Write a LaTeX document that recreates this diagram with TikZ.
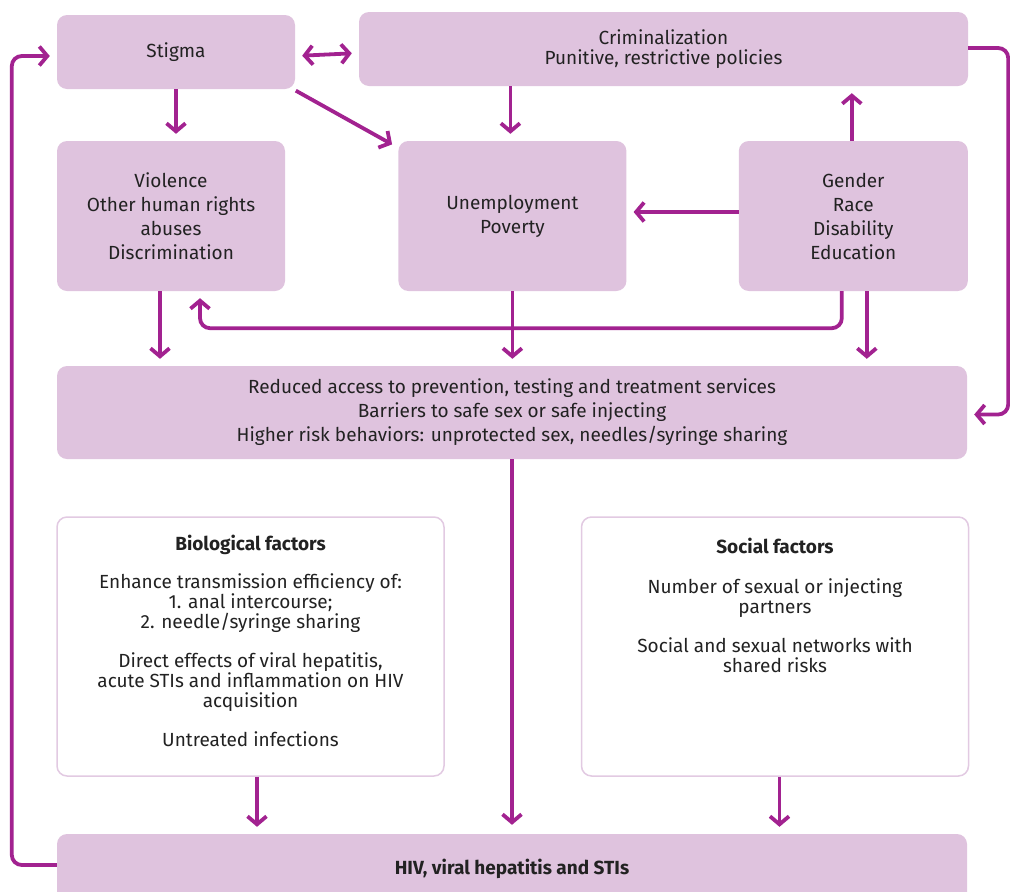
\documentclass[tikz,border=0pt]{standalone}
\usepackage{fontspec}
\setmainfont{Fira Sans}
\usetikzlibrary{arrows.meta, positioning}
\usepackage{xcolor}
\definecolor{BoxFill} {RGB}{223,195,222}
\definecolor{BoxLine} {RGB}{226,202,226}
\definecolor{ArrLine} {RGB}{162,34,144}
\definecolor{TxtDark} {RGB}{34,34,34}
\tikzset{
  % Pink box, width and height in px
  pinkbox/.style 2 args={
    rectangle, rounded corners=10pt,
    draw=none, fill=BoxFill,
    align=center, text=TxtDark, font=\wide,
    minimum width=#1, minimum height=#2, inner sep=4pt
  },
  % White factor boxes with thin pink border
  factorbox/.style={
    rectangle, rounded corners=10pt,
    draw=BoxLine, fill=white, line width=1.5pt,
    text=TxtDark, font=\tight,
    minimum width=387pt, minimum height=259pt, inner sep=0pt
  },
  arr/.style={-{Straight Barb[length=8pt,width=19pt]}, draw=ArrLine, line width=3.8pt,
    shorten >=7pt, rounded corners=10pt},
  darr/.style={arr, {Straight Barb[length=8pt,width=19pt]}-{Straight Barb[length=8pt,width=19pt]}, shorten <=7pt}
}
\newcommand{\wide}{\fontsize{19}{24}\selectfont}
\newcommand{\tight}{\fontsize{19}{20}\selectfont}
\newcommand{\fbody}[1]{\parbox[c][222pt][t]{375pt}{\centering #1}}

\begin{document}
\begin{tikzpicture}[x=1pt, y=-1pt]

  \useasboundingbox (0,0) rectangle (1010,892);

  %% -- Top row -----------------------------------------------------------
  \node[pinkbox={238pt}{74pt}] (stig) at (176,52) {Stigma};
  \node[pinkbox={609pt}{74pt}, font=\tight] (crim) at (663.5,49)
    {Criminalization\\Punitive, restrictive policies};

  %% -- Middle row ----------------------------------------------------------
  \node[pinkbox={228pt}{150pt}] (viol) at (171,216)
    {Violence\\Other human rights\\abuses\\Discrimination};
  \node[pinkbox={228pt}{150pt}, right=113pt of viol] (unem)
    {Unemployment\\Poverty};
  \node[pinkbox={229pt}{150pt}, right=112pt of unem] (gend)
    {Gender\\Race\\Disability\\Education};

  %% -- Access barriers -----------------------------------------------------
  \node[pinkbox={910pt}{93pt}] (redu) at (512,412.5)
    {Reduced access to prevention, testing and treatment services\\
     Barriers to safe sex or safe injecting\\
     Higher risk behaviors: unprotected sex, needles/syringe sharing};

  %% -- Factors -------------------------------------------------------------
  \node[factorbox] (biof) at (250.5,646.5)
    {\fbody{\textbf{Biological factors}\\[18pt]
      Enhance transmission efficiency of:\\1. anal intercourse;\\2. needle/syringe sharing\\[19pt]
      Direct effects of viral hepatitis,\\acute STIs and inflammation on HIV\\acquisition\\[19pt]
      Untreated infections}};
  \node[factorbox, right=136pt of biof] (socf)
    {\fbody{\vspace*{3pt}\textbf{Social factors}\\[20pt]
      Number of sexual or injecting\\partners\\[19pt]
      Social and sexual networks with\\shared risks}};

  %% -- Outcome -------------------------------------------------------------
  \node[pinkbox={910pt}{70pt}, font=\tight\bfseries] (hivs) at (512,869)
    {HIV, viral hepatitis and STIs};

  %% -- Arrows --------------------------------------------------------------
  \draw[darr] ([yshift=-4pt]stig.east) -- ([yshift=-1pt]stig.east -| crim.west);
  \draw[arr] (stig.south) -- (stig.south |- viol.north);
  \draw[arr, shorten <=3pt] ([xshift=-2pt]stig.south east) -- ([yshift=-7pt]unem.north west);
  \draw[arr] ([xshift=-2pt]crim.south -| unem.north) -- ([xshift=-2pt]unem.north);
  \draw[arr] ([xshift=-1.5pt]gend.north) -- ([xshift=-1.5pt]gend.north |- crim.south);
  \draw[arr] ([yshift=4pt]gend.west) -- ([yshift=4pt]unem.east);

  \draw[arr] ([xshift=-11pt]viol.south) -- ([xshift=-11pt]viol.south |- redu.north);
  \draw[arr] (unem.south) -- (unem.south |- redu.north);
  \draw[arr] ([xshift=13.5pt]gend.south) -- ([xshift=13.5pt]gend.south |- redu.north);
  \draw[arr] ([xshift=-11.5pt]gend.south) -- ++(0,37) -| ([xshift=29pt]viol.south);

  % Feedback loops on both sides
  \draw[arr] ([yshift=1pt]crim.east) -- ++(40,0) |- ([yshift=-2pt]redu.east);
  \draw[arr] ([yshift=4pt]hivs.west) -- ++(-45,0) |- ([yshift=-4pt]stig.west);

  \draw[arr, shorten >=9pt] (redu.south) -- (redu.south |- hivs.north);
  \draw[arr] ([xshift=6.5pt]biof.south) -- ([xshift=6.5pt]biof.south |- hivs.north);
  \draw[arr] ([xshift=4.5pt]socf.south) -- ([xshift=4.5pt]socf.south |- hivs.north);

\end{tikzpicture}
\end{document}
